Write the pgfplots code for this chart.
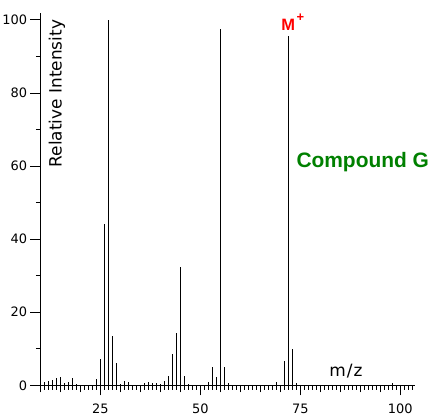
\documentclass[border=0pt]{standalone}
\usepackage{fontspec}
\setmainfont{DejaVu Sans}
\newfontfamily\lib{Liberation Sans}
\usepackage{pgfplots}
\pgfplotsset{compat=1.18}
\definecolor{cgreen}{RGB}{0,128,0}
\definecolor{cred}{RGB}{255,0,0}
\begin{document}
\begin{tikzpicture}
\begin{axis}[
  scale only axis, width=374.8bp, height=372.3bp,
  xmin=10, xmax=103.7, ymin=0, ymax=101.9,
  axis x line*=bottom, axis y line*=left,
  axis line style={black, line width=1bp, -},
  tick align=outside,
  xtick={25,50,75,100}, ytick={0,20,40,60,80,100},
  minor xtick={11,...,103}, minor ytick={10,30,50,70,90},
  extra x ticks={10,15,20,30,35,40,45,55,60,65,70,80,85,90,95},
  extra x tick labels={},
  extra x tick style={major tick length=7bp},
  major tick length=10bp, minor tick length=4.5bp,
  tick style={black, line width=1bp},
  ticklabel style={font=\fontsize{13}{15}\selectfont},
  xticklabel style={inner sep=0pt, anchor=north, yshift=-8.5bp},
  yticklabel style={inner sep=0pt, anchor=east, xshift=-3bp},
  /pgf/number format/assume math mode=true,
  clip=false,
]
\addplot[ycomb, black, line width=1bp, no marks] coordinates {
(11,0.8) (12,1.1) (13,1.5) (14,2.0) (15,2.3) (16,0.5) (17,1.0) (18,2.0) (19,0.4)
(24,1.7) (25,7.2) (26,44.2) (27,100) (28,13.5) (29,6.1) (30,0.4) (31,1.2) (32,0.9)
(36,0.6) (37,0.9) (38,0.5) (39,0.5) (40,0.4) (41,1.3) (42,2.6) (43,8.6) (44,14.2)
(45,32.4) (46,2.6) (47,0.4) (52,0.9) (53,5.0) (54,2.3) (55,97.5) (56,5.0) (57,0.5)
(69,0.8) (71,6.7) (72,95.7) (73,10.0) (74,0.7) (98,0.6)
};
\coordinate (O) at (axis cs:10,0);
\node[rotate=90, anchor=base east, inner sep=0pt, font=\fontsize{17}{20}\selectfont]
  at (axis cs:15.35,100.08) {Relative Intensity};
\node[inner sep=0pt, font=\fontsize{17}{20}\selectfont] at (axis cs:86.4,3.9) {m\kern1bp/\kern1bp z};
\node[anchor=base, inner sep=0pt, text=cred, font=\lib\bfseries\fontsize{16.5}{18}\selectfont]
  at (axis cs:72,97.1) {M\rlap{\kern1.5bp\raisebox{9bp}{\fontsize{13}{14}\selectfont +}}};
\node[anchor=base west, inner sep=0pt, text=cgreen, font=\lib\bfseries\fontsize{21}{24}\selectfont]
  at (axis cs:74.0,59.5) {Compound G};
\end{axis}
\pgfresetboundingbox
\path[use as bounding box] (O) ++(-40.3bp,-33.7bp) rectangle ++(439bp,419bp);
\end{tikzpicture}
\end{document}
